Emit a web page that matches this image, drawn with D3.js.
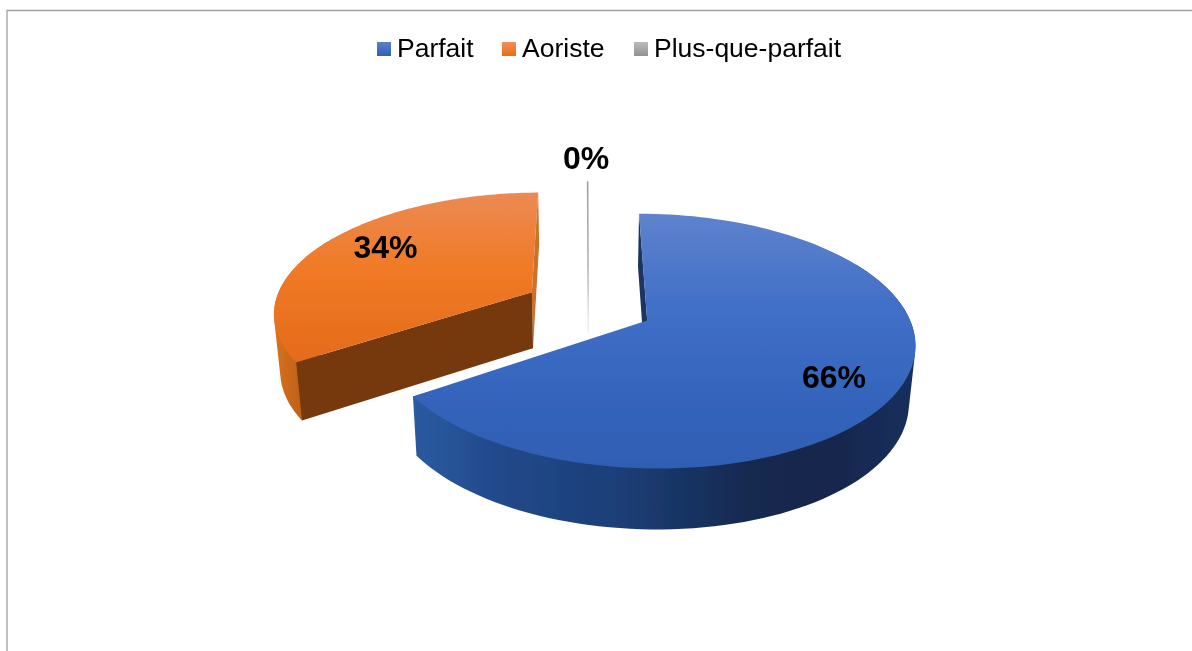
<!DOCTYPE html>
<html>
<head>
<meta charset="utf-8">
<script src="https://cdn.jsdelivr.net/npm/d3@7"></script>
<style>
    html, body { margin: 0; padding: 0; background: #fff; overflow: hidden; }
    svg { display: block; }
    text { font-family: "Liberation Sans", Arial, sans-serif; fill: #000; }
</style>
</head>
<body>
<svg id="chart"></svg>
<script>
// Values (printed labels are the rounded ones)
const categories = ["Parfait", "Aoriste", "Plus-que-parfait"];
const values = [65.6, 34.3, 0.1];

const width = 1192;
const height = 651;

// Perspective of the disc: x0/y0 = vanishing axis, a/c = radii, b = perspective strength
const x0 = 588.5, y0 = 306, a = 258, c = 119.4, b = 0.1587;
const explode = 0.253;
const project = (X, Y) => {
    const p = 1 - b * Y;
    return [x0 + a * X / p, y0 + c * Y / p];
};
// Bottom face sits under the top one, a bit narrower and deeper towards the viewer
const projectBottom = (X, Y) => {
    const [x, y] = project(X, Y);
    return [x0 + (x - x0) * 0.98, y + 56.5 + 4 * Y];
};

const svg = d3.select("#chart").attr("width", width).attr("height", height);
const defs = svg.append("defs");

defs.append("filter").attr("id", "soft")
    .attr("filterUnits", "userSpaceOnUse")
    .attr("x", 0).attr("y", 0).attr("width", width).attr("height", height)
    .append("feGaussianBlur").attr("stdDeviation", 0.5);

function gradient(id, x1, y1, x2, y2, stops) {
    const g = defs.append("linearGradient").attr("id", id)
        .attr("gradientUnits", "userSpaceOnUse")
        .attr("x1", x1).attr("y1", y1).attr("x2", x2).attr("y2", y2);
    g.selectAll("stop").data(stops).join("stop")
        .attr("offset", d => d[0])
        .attr("stop-color", d => d[1]);
    return `url(#${id})`;
}

const styles = [
    {
        top: gradient("topBlue", 0, 213, 0, 467, [[0, "#5f83cd"], [0.35, "#4270c8"], [0.7, "#3565bd"], [1, "#2f5fb4"]]),
        wall: gradient("wallBlue", 415, 0, 910, 0, [[0, "#2b5aa0"], [0.18, "#21488a"], [0.4, "#1d3f78"], [0.68, "#14294f"], [0.85, "#13274d"], [1, "#182f5c"]]),
        end: "#1c3560", wallFrom: 60
    },
    {
        top: gradient("topOrange", 0, 192, 0, 363, [[0, "#ec8a54"], [0.45, "#f07a26"], [1, "#e46b1a"]]),
        wall: gradient("wallOrange", 273, 0, 303, 0, [[0, "#d9721e"], [1, "#bd6118"]]),
        end: "#cb7229", side: "#76380f", wallTo: 300
    },
    {
        top: gradient("topGrey", 0, 180, 0, 323, [[0, "#a0a0a0"], [0.6, "#b4b4b4"], [1, "#eeeeee"]])
    }
];

const pie = d3.pie().sort(null).startAngle(0).endAngle(2 * Math.PI);
const arcs = pie(values);
const line = d3.line();
const chart = svg.append("g").attr("filter", "url(#soft)");
const rad = deg => deg * Math.PI / 180;

function drawSlice(d, st) {
    const mid = (d.startAngle + d.endAngle) / 2;
    const cx = Math.sin(mid) * explode;
    const cy = -Math.cos(mid) * explode;
    const rimAngles = d3.range(0, 121).map(i => d.startAngle + (d.endAngle - d.startAngle) * i / 120);
    const rim = fn => rimAngles.map(t => fn(cx + Math.sin(t), cy - Math.cos(t)));
    const topRim = rim(project);
    const bottomRim = rim(projectBottom);
    const apexTop = project(cx, cy);
    const apexBottom = projectBottom(cx, cy);

    // zero-ish slice is only a thin line going down through its own wall
    if (d.index === 2) {
        chart.append("path")
            .attr("d", line([topRim[60], apexBottom]))
            .attr("fill", "none")
            .attr("stroke", st.top)
            .attr("stroke-width", 1.6);
        return;
    }

    // outer wall: hull of the visible stretch of both rims, so the sides run tangent
    const seen = rimAngles
        .map((t, i) => i)
        .filter(i => {
            const t = rimAngles[i];
            return (st.wallFrom === undefined || t >= rad(st.wallFrom)) && (st.wallTo === undefined || t <= rad(st.wallTo));
        });
    const hull = d3.polygonHull(seen.flatMap(i => [topRim[i], bottomRim[i]]));
    chart.append("path")
        .attr("d", line(hull) + "Z")
        .attr("fill", st.wall);

    // wall along the upper straight edge, seen as a sliver
    const first = d.index === 0 ? 0 : 120;
    chart.append("path")
        .attr("d", line([topRim[first], bottomRim[first], apexBottom, apexTop]) + "Z")
        .attr("fill", st.end);

    // wall along the front straight edge (only shows on the orange one)
    if (d.index === 1) {
        chart.append("path")
            .attr("d", line([apexTop, topRim[0], bottomRim[0], apexBottom]) + "Z")
            .attr("fill", st.side);
    }

    chart.append("path")
        .attr("d", line([apexTop].concat(topRim)) + "Z")
        .attr("fill", st.top);
}

// back to front
[2, 1, 0].forEach(i => drawSlice(arcs[i], styles[i]));

// Data labels
const labelAt = [[834, 388], [385.5, 258], [586, 169]];
chart.selectAll("text.pct")
    .data(arcs)
    .join("text")
    .attr("class", "pct")
    .attr("x", (d, i) => labelAt[i][0])
    .attr("y", (d, i) => labelAt[i][1])
    .attr("text-anchor", "middle")
    .attr("font-size", 32)
    .attr("font-weight", "bold")
    .text(d => `${Math.round(d.value)}%`);

// Legend
const legendX = [377, 502, 634];
const legendText = [397, 522, 654];
const swatches = [
    gradient("swBlue", 0, 42, 0, 56, [[0, "#5a80cd"], [1, "#2f5fb4"]]),
    gradient("swOrange", 0, 42, 0, 56, [[0, "#f09058"], [1, "#e86d18"]]),
    gradient("swGrey", 0, 42, 0, 56, [[0, "#bcbcbc"], [1, "#929292"]])
];
const legend = chart.selectAll("g.leg")
    .data(categories)
    .join("g")
    .attr("class", "leg");
legend.append("rect")
    .attr("x", (d, i) => legendX[i])
    .attr("y", 42)
    .attr("width", 14)
    .attr("height", 14)
    .attr("fill", (d, i) => swatches[i]);
legend.append("text")
    .attr("x", (d, i) => legendText[i])
    .attr("y", 57)
    .attr("font-size", 26.5)
    .text(d => d);

// Chart frame, only its top and left sides are in the picture
svg.append("path")
    .attr("d", `M7,${height}V10.5H${width}`)
    .attr("fill", "none")
    .attr("stroke", "#a0a0a0")
    .attr("stroke-width", 1.3);
</script>
</body>
</html>
